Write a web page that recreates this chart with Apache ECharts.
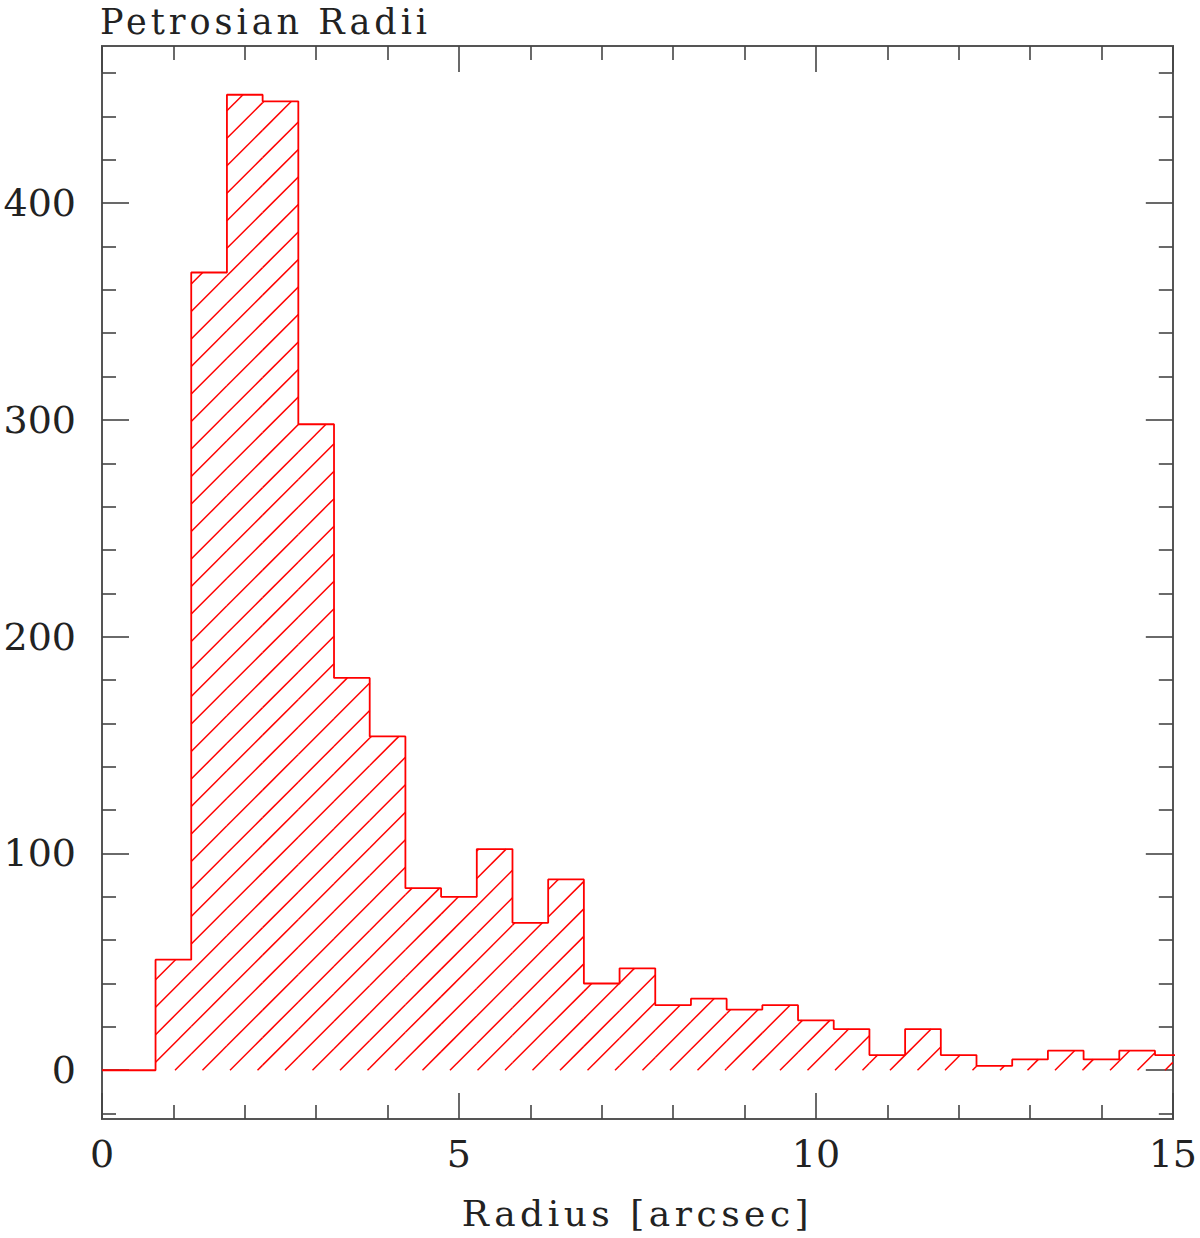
<!DOCTYPE html>
<html>
<head>
<meta charset="utf-8">
<script src="https://cdn.jsdelivr.net/npm/echarts@6/dist/echarts.min.js"></script>
<style>
html, body { margin: 0; padding: 0; background: #fff; }
#chart { width: 1200px; height: 1238px; }
</style>
</head>
<body>
<div id="chart"></div>
<script>
// ---- data ----
const binEdges = [0, 0.75, 1.25, 1.75, 2.25, 2.75, 3.25, 3.75, 4.25, 4.75, 5.25, 5.75, 6.25, 6.75, 7.25, 7.75,
  8.25, 8.75, 9.25, 9.75, 10.25, 10.75, 11.25, 11.75, 12.25, 12.75, 13.25, 13.75, 14.25, 14.75, 15.25];
const counts = [0, 51, 368, 450, 447, 298, 181, 154, 84, 80, 102, 68, 88, 40, 47, 30,
  33, 28, 30, 23, 19, 7, 19, 7, 2, 5, 9, 5, 9, 7];
const xMajorTicks = [0, 5, 10, 15];
const xMinorTicks = [1, 2, 3, 4, 6, 7, 8, 9, 11, 12, 13, 14];
const yMajorTicks = [0, 100, 200, 300, 400];
const yMinorTicks = [-20, 20, 40, 60, 80, 120, 140, 160, 180, 220, 240, 260, 280, 320, 340, 360, 380, 420, 440, 460];
const titleText = 'Petrosian Radii';
const xName = 'Radius [arcsec]';

// ---- derived ----
const barData = counts.map((c, i) => [binEdges[i], binEdges[i + 1], c]);
const outline = [];
counts.forEach((c, i) => { outline.push([binEdges[i], c]); outline.push([binEdges[i + 1], c]); });

const FONT = 'DejaVu Serif';
const RED = '#ff0000';
const AX = '#555';
const X_MIN = 0, X_MAX = 15, Y_MIN = -22.5, Y_MAX = 472.5;

function xAxisDef(pos, ticks, len, labels) {
  return {
    type: 'value', position: pos, min: X_MIN, max: X_MAX,
    axisLine: { show: true, onZero: false, lineStyle: { color: AX, width: 2 } },
    axisTick: { show: true, inside: true, length: len, customValues: ticks, lineStyle: { color: '#444', width: 1.6 } },
    axisLabel: labels ? { show: true, customValues: ticks, fontFamily: FONT, fontSize: 38, color: '#222', margin: 16 } : { show: false },
    splitLine: { show: false },
    name: labels ? xName : '', nameLocation: 'middle', nameGap: 76,
    nameTextStyle: { fontFamily: FONT, fontSize: 36, color: '#222' }
  };
}
function yAxisDef(pos, ticks, len, labels) {
  return {
    type: 'value', position: pos, min: Y_MIN, max: Y_MAX,
    axisLine: { show: true, onZero: false, lineStyle: { color: AX, width: 2 } },
    axisTick: { show: true, inside: true, length: len, customValues: ticks, lineStyle: { color: '#444', width: 1.6 } },
    axisLabel: labels ? { show: true, customValues: ticks, fontFamily: FONT, fontSize: 38, color: '#222', margin: 26 } : { show: false },
    splitLine: { show: false }
  };
}

function renderHatch(params, api) {
  const x0v = api.value(0), x1v = api.value(1), h = api.value(2);
  if (!(h > 0)) return null;
  const tl = api.coord([x0v, h]);
  const br = api.coord([x1v, 0]);
  const cs = params.coordSys;
  const xa = Math.max(tl[0], cs.x), xb = Math.min(br[0], cs.x + cs.width);
  const yt = tl[1], yb = br[1];
  if (xb <= xa) return null;
  const origin = api.coord([0, 0]);
  const spacing = 27.5;
  const cBase = origin[0] + origin[1] + 73;
  const kStart = Math.ceil((xa + yt - cBase) / spacing);
  const kEnd = Math.floor((xb + yb - cBase) / spacing);
  const children = [];
  for (let k = kStart; k <= kEnd; k++) {
    const c = cBase + k * spacing;
    const xs = Math.max(xa, c - yb), xe = Math.min(xb, c - yt);
    if (xe > xs + 0.3) {
      children.push({ type: 'line', shape: { x1: xs, y1: c - xs, x2: xe, y2: c - xe },
        style: { stroke: RED, lineWidth: 1.5 } });
    }
  }
  return { type: 'group', children };
}

const chart = echarts.init(document.getElementById('chart'), null, { renderer: 'svg' });
chart.setOption({
  animation: false,
  backgroundColor: '#fff',
  title: { text: titleText, left: 100, top: 4, padding: 0,
    textStyle: { fontFamily: FONT, fontWeight: 'normal', fontSize: 35, lineHeight: 36, color: '#222' } },
  grid: { left: 102, right: 26, top: 46, bottom: 119, containLabel: false },
  xAxis: [
    xAxisDef('bottom', xMajorTicks, 26, true),
    xAxisDef('bottom', xMinorTicks, 14, false),
    xAxisDef('top', xMajorTicks, 26, false),
    xAxisDef('top', xMinorTicks, 14, false)
  ],
  yAxis: [
    yAxisDef('left', yMajorTicks, 27, true),
    yAxisDef('left', yMinorTicks, 14, false),
    yAxisDef('right', yMajorTicks, 27, false),
    yAxisDef('right', yMinorTicks, 14, false)
  ],
  series: [
    { type: 'custom', xAxisIndex: 0, yAxisIndex: 0, clip: true, renderItem: renderHatch,
      encode: { x: [0, 1], y: 2 }, data: barData, silent: true },
    { type: 'line', xAxisIndex: 0, yAxisIndex: 0, data: outline, showSymbol: false, symbol: 'none',
      clip: true, lineStyle: { color: RED, width: 1.8 }, silent: true }
  ]
});

function spaceText() {
  document.querySelectorAll('#chart text').forEach(t => {
    const s = t.textContent;
    if (s === titleText) t.style.letterSpacing = '4px';
    else if (s === xName) t.style.letterSpacing = '4.5px';
  });
}
chart.on('finished', spaceText);
spaceText();
</script>
</body>
</html>
